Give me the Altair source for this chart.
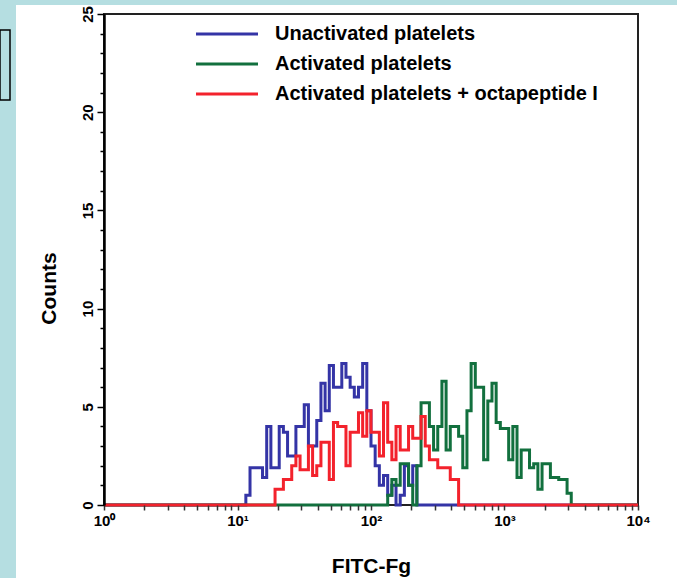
import altair as alt
import pandas as pd

# ---------------- data ----------------
series_names = ["Unactivated platelets", "Activated platelets",
                "Activated platelets + octapeptide I"]
series_colors = ["#3434a6", "#12703e", "#f3222c"]

n_channels = 128          # histogram channels over 4 decades
channels_per_decade = 32

blue_start = 34
blue_counts = [0.5, 1.9, 1.9, 1.9, 1.4, 4.0, 1.9, 1.9, 4.0, 3.7, 2.5, 2.5, 4.0, 4.0,
               5.1, 3.0, 3.0, 4.3, 6.2, 4.8, 7.1, 6.0, 6.0, 7.2, 6.5, 6.0, 5.5, 6.0,
               7.2, 4.8, 3.0, 2.0, 1.0, 1.5, 0.5, 1.0, 0.0, 0.5, 2.0, 1.0, 2.0]

green_start = 68
green_counts = [0.5, 1.3, 1.0, 2.1, 2.1, 1.0, 0.0, 2.0, 5.2, 5.2, 4.0, 2.8, 4.0, 6.3,
                2.8, 4.0, 4.0, 3.5, 1.9, 4.8, 7.2, 6.0, 6.0, 2.3, 5.3, 6.2, 4.2, 3.9,
                3.9, 2.3, 4.0, 1.4, 2.8, 2.8, 1.9, 2.1, 0.8, 2.1, 2.1, 1.4, 1.4, 1.3,
                1.3, 0.6]

red_start = 41
red_counts = [0.8, 0.8, 1.3, 1.3, 2.0, 2.5, 1.8, 1.8, 3.0, 1.5, 2.0, 3.2, 3.2, 1.3,
              4.2, 4.0, 4.0, 2.0, 3.7, 3.7, 4.7, 3.5, 4.8, 3.7, 3.7, 2.5, 5.2, 3.2,
              2.3, 4.0, 2.8, 2.8, 4.0, 3.4, 3.4, 4.5, 3.0, 2.3, 2.3, 1.9, 1.9, 1.9,
              1.3, 1.3]

x_tick_values = [m * 10 ** d for d in range(4) for m in range(1, 10)] + [10000]
y_tick_values = list(range(0, 26))

# ---------------- table ----------------
rows = []
for name, start, counts in zip(series_names,
                               [blue_start, green_start, red_start],
                               [blue_counts, green_counts, red_counts]):
    for ch in range(n_channels + 1):
        i = ch - start
        c = counts[i] if 0 <= i < len(counts) else 0.0
        rows.append({"series": name,
                     "fitc": 10 ** (ch / channels_per_decade),
                     "count": c})
df = pd.DataFrame(rows)

W, H = 534, 491
PAD = {"left": 104, "top": 14, "right": 39, "bottom": 73}
FONT = "Liberation Sans, Arial, sans-serif"

x_enc = alt.X("fitc:Q",
              scale=alt.Scale(type="log", domain=[1, 10000]),
              axis=alt.Axis(values=x_tick_values,
                            labelExpr="datum.value == 1 ? '10⁰' : datum.value == 10 ? '10¹' : "
                                      "datum.value == 100 ? '10²' : datum.value == 1000 ? '10³' : "
                                      "datum.value == 10000 ? '10⁴' : ''",
                            labelOverlap=False, labelFlush=False,
                            title="FITC-Fg", titleFontSize=21, titleFontWeight="bold",
                            titleFont=FONT, titlePadding=27, titleColor="black",
                            labelFont=FONT, labelFontSize=15, labelFontWeight="bold",
                            labelColor="black", labelPadding=3,
                            tickSize=5, tickColor="#333", tickWidth=1.5,
                            domain=False, grid=False, zindex=1))

y_enc = alt.Y("count:Q",
              scale=alt.Scale(domain=[0, 25]),
              axis=alt.Axis(values=y_tick_values,
                            labelExpr="datum.value % 5 == 0 ? datum.label : ''",
                            labelAngle=270, labelOverlap=False, labelFlush=False,
                            labelFont=FONT, labelFontSize=15, labelFontWeight="bold",
                            labelColor="black", labelPadding=2,
                            tickSize={"condition": {"test": "datum.value % 5 === 0", "value": 7},
                                      "value": 4},
                            tickColor="black", tickWidth=1.5,
                            domainColor="black", domainWidth=2.5,
                            title="Counts", titleFontSize=21, titleFontWeight="bold",
                            titleFont=FONT, titlePadding=21, titleColor="black",
                            titleY=274,
                            grid=False, zindex=1))

color_enc = alt.Color("series:N",
                      scale=alt.Scale(domain=series_names, range=series_colors),
                      legend=alt.Legend(orient="none", legendX=106, legendY=3,
                                        title=None, symbolType="M-2,0H2",
                                        symbolSize=961, symbolStrokeWidth=3,
                                        labelFont=FONT, labelFontSize=20,
                                        labelFontWeight="bold", labelColor="black",
                                        labelOffset=31, rowPadding=3, labelLimit=400))

dummy = pd.DataFrame({"a": [0]})

panel = alt.Chart(dummy).mark_rect(fill="white").encode(
    x=alt.value(-88), x2=alt.value(573), y=alt.value(-9), y2=alt.value(564))

side_box = alt.Chart(dummy).mark_rect(fillOpacity=0, stroke="black", strokeWidth=1.5).encode(
    x=alt.value(-104), x2=alt.value(-94), y=alt.value(16), y2=alt.value(86))

frame = alt.Chart(dummy).mark_rect(fillOpacity=0, stroke="#222", strokeWidth=2).encode(
    x=alt.value(0), x2=alt.value(W), y=alt.value(0), y2=alt.value(H))

base = alt.Chart(df)
line_layers = [
    base.transform_filter(alt.datum.series == name)
    .mark_line(interpolate="step-after", strokeWidth=3)
    .encode(x=x_enc, y=y_enc, color=color_enc)
    for name in series_names
]

chart = alt.layer(panel, side_box, frame, *line_layers).properties(
    width=W, height=H,
    autosize=alt.AutoSizeParams(type="none"),
    padding=PAD,
    background="#b5dee1",
).configure_view(strokeWidth=0)

chart.save("out.html", embed_options={"renderer": "svg", "actions": False})
